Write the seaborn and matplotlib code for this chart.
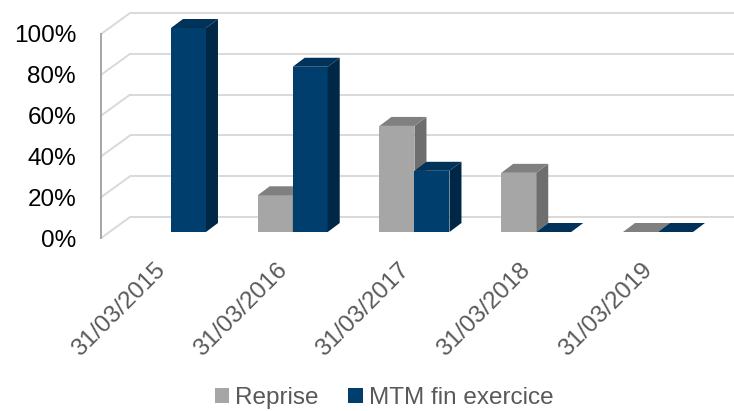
"""Excel-style 3D clustered columns: Reprise vs MTM fin exercice."""
import matplotlib
matplotlib.use("Agg")
import matplotlib.pyplot as plt
import pandas as pd
import seaborn as sns
from matplotlib.lines import Line2D
from matplotlib.patches import Polygon

DATES = ["31/03/2015", "31/03/2016", "31/03/2017", "31/03/2018", "31/03/2019"]
SERIES = ["Reprise", "MTM fin exercice"]
REPRISE = [None, 18, 52, 29, 0]
MTM = [100, 81, 30, 0, 0]
Y_TICKS = [0, 20, 40, 60, 80, 100]
Y_LABELS = ["0%", "20%", "40%", "60%", "80%", "100%"]

FRONT = {"Reprise": "#A6A6A6", "MTM fin exercice": "#003E6D"}
TOP = {"Reprise": "#808080", "MTM fin exercice": "#00325A"}
SIDE = {"Reprise": "#6E6E6E", "MTM fin exercice": "#002846"}
GRID = "#D9D9D9"
TEXT_GREY = "#595959"

W, H = 734, 411
BAR_DEPTH_PX = (12, 9)
FONT_SIZE = 17.5


def frac(left, top, width, height):
    # pixel box (image coords) -> figure fraction rect
    return [left / W, (H - top - height) / H, width / W, height / H]


df = pd.DataFrame({
    "date": DATES * 2,
    "serie": [SERIES[0]] * len(DATES) + [SERIES[1]] * len(DATES),
    "value": REPRISE + MTM,
}).dropna()

sns.set_style("white")
plt.rcParams["font.family"] = ["Liberation Sans", "DejaVu Sans"]

fig = plt.figure(figsize=(W / 100, H / 100), dpi=100)

# back wall with the horizontal gridlines
ax_back = fig.add_axes(frac(130.1, 13, W - 130.1, 204))
ax_back.set_zorder(0)
ax_back.set(xlim=(0, 1), ylim=(0, 100))
ax_back.hlines(Y_TICKS, 0, 1, color=GRID, lw=1.4, clip_on=False)
ax_back.axis("off")

# bar plane
ax = fig.add_axes(frac(110.1, 28, 608.75, 204))
ax.set_zorder(1)
ax.patch.set_alpha(0)
sns.barplot(data=df, x="date", y="value", hue="serie", order=DATES,
            hue_order=SERIES, palette=FRONT, saturation=1, width=0.575,
            gap=0, linewidth=0, ax=ax)
ax.set(xlim=(-0.5, len(DATES) - 0.5), ylim=(0, 100))
ax.axis("off")

bbox = ax.get_window_extent()
ddx = BAR_DEPTH_PX[0] * len(DATES) / bbox.width
ddy = BAR_DEPTH_PX[1] * 100 / bbox.height

bars = []
for serie, cont in zip(SERIES, ax.containers):
    for patch in cont:
        bars.append((patch.get_x(), patch, serie))
bars.sort(key=lambda b: b[0])
for i, (_, patch, serie) in enumerate(bars):
    x0, w, h = patch.get_x(), patch.get_width(), patch.get_height()
    patch.set_zorder(2 + i)
    top = Polygon([(x0, h), (x0 + w, h), (x0 + w + ddx, h + ddy),
                   (x0 + ddx, h + ddy)], closed=True, fc=TOP[serie],
                  lw=0, clip_on=False, zorder=2.5 + i)
    side = Polygon([(x0 + w, 0), (x0 + w + ddx, ddy), (x0 + w + ddx, h + ddy),
                    (x0 + w, h)], closed=True, fc=SIDE[serie], lw=0,
                   clip_on=False, zorder=2.5 + i)
    ax.add_patch(side)
    ax.add_patch(top)

# front plane: axis line and labels
ax_front = fig.add_axes(frac(101.1, 34, 608.75, 204))
ax_front.set_zorder(2)
ax_front.patch.set_alpha(0)
ax_front.set(xlim=(-0.5, len(DATES) - 0.5), ylim=(0, 100))
ax_front.set_yticks(Y_TICKS, Y_LABELS)
ax_front.set_xticks(range(len(DATES)), DATES)
ax_front.tick_params(axis="y", length=0, pad=18, labelsize=FONT_SIZE,
                     labelcolor="black")
ax_front.tick_params(axis="x", length=0, pad=21, labelsize=FONT_SIZE,
                     labelcolor=TEXT_GREY)
for lbl in ax_front.get_xticklabels():
    lbl.set(rotation=45, ha="right", va="center", rotation_mode="anchor")
for name, spine in ax_front.spines.items():
    spine.set_visible(name == "left")
ax_front.spines["left"].set(color="#A6A6A6", lw=1.4)

# slanted gridlines on the side wall
to_fig = fig.transFigure.inverted()
for p in Y_TICKS:
    x1, y1 = to_fig.transform(ax_front.transData.transform((-0.5, p)))
    x2, y2 = to_fig.transform(ax_back.transData.transform((0, p)))
    fig.add_artist(Line2D([x1, x2], [y1, y2], color=GRID, lw=1.4, zorder=0))

sns.move_legend(ax, "center", bbox_to_anchor=(384 / W, 13 / H),
                bbox_transform=fig.transFigure, ncol=2, frameon=False,
                title=None, fontsize=FONT_SIZE, handlelength=0.6,
                handleheight=0.6, handletextpad=0.25, columnspacing=1.2)
for t in ax.get_legend().get_texts():
    t.set_color(TEXT_GREY)

fig.savefig("out.png", dpi=100)
